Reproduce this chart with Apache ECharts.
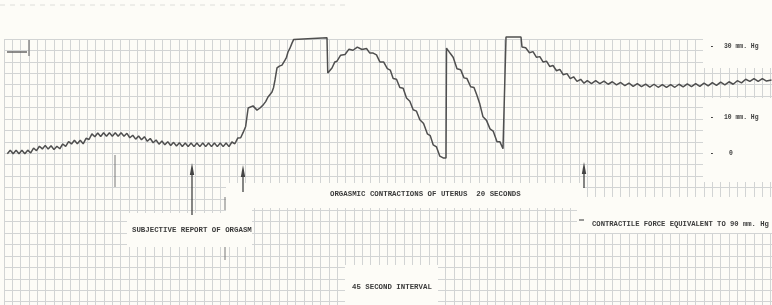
<!DOCTYPE html>
<html>
<head>
<meta charset="utf-8">
<script src="https://cdn.jsdelivr.net/npm/echarts@6/dist/echarts.min.js"></script>
<style>
html,body{margin:0;padding:0;background:#fdfcf7;}
#con{width:772px;height:305px;}
</style>
</head>
<body>
<div id="con"></div>
<script>
// time in chart squares, pressure in mm Hg
var restTrace = [[0.4,-0.2],[0.75,0.8],[1.1,-0.2],[1.45,0.8],[1.8,-0.2],[2.15,0.8],[2.5,-0.2],[2.85,0.8],[3.2,0.0],[3.55,1.4],[3.9,0.65],[4.25,1.9],[4.6,1.15],[4.95,2.15],[5.3,1.1],[5.65,2.05],[6.0,0.95],[6.35,1.9],[6.7,1.2],[7.05,2.55],[7.4,1.85],[7.75,3.2],[8.1,2.55],[8.45,3.6],[8.8,2.6],[9.15,3.6],[9.5,2.6],[9.85,4.15],[10.2,3.8],[10.55,5.4],[10.9,4.6],[11.25,5.65],[11.6,4.65],[11.95,5.7],[12.3,4.7],[12.65,5.7],[13.0,4.7],[13.35,5.7],[13.7,4.7],[14.05,5.7],[14.4,4.7],[14.75,5.55],[15.1,4.3],[15.45,5.0],[15.8,3.9],[16.15,4.8],[16.5,3.75],[16.85,4.6],[17.2,3.3],[17.55,4.1],[17.9,2.9],[18.25,3.65],[18.6,2.5],[18.95,3.4],[19.3,2.3],[19.65,3.2],[20.0,2.1],[20.35,3.0],[20.7,1.95],[21.05,2.9],[21.4,1.85],[21.75,2.8],[22.1,1.8],[22.45,2.8],[22.8,1.8],[23.15,2.8],[23.5,1.8],[23.85,2.8],[24.2,1.8],[24.55,2.8],[24.9,1.8],[25.25,2.8],[25.6,1.8],[25.95,2.8],[26.3,1.8],[26.65,2.8],[27.0,1.8],[27.35,3.1],[27.7,2.6],[28.05,4.2],[28.4,4.3],[28.7,5.8]];
var riseTrace = [[29.0,7.5],[29.2,11.0],[29.3,12.7],[29.52,13.0],[29.88,13.3],[30.36,12.1],[30.72,12.7],[31.08,13.5],[31.4,14.5],[31.68,15.8],[31.95,16.6],[32.16,17.2],[32.35,18.5],[32.52,20.6],[32.76,24.0],[33.05,24.5],[33.36,24.8],[33.72,26.2],[33.9,27.0],[34.08,28.5],[34.3,29.5],[34.56,31.0],[34.75,32.0],[34.92,32.5],[38.76,32.5]];
var contractionTrace = [[38.85,22.6],[39.36,24.0],[39.7,25.7],[39.96,25.9],[40.4,27.6],[40.92,27.8],[41.4,29.3],[41.88,29.0],[42.4,29.9],[42.96,29.2],[43.5,29.5],[43.9,28.2],[44.3,28.2],[44.7,27.7],[45.1,25.7],[45.55,25.7],[46.0,23.8],[46.35,23.4],[46.7,21.0],[47.1,20.8],[47.5,18.5],[47.9,18.3],[48.3,15.5],[48.7,14.6],[49.1,12.2],[49.5,11.8],[49.9,9.4],[50.35,8.3],[50.8,5.4],[51.15,4.9],[51.5,2.3],[51.9,1.7],[52.3,-0.9],[52.7,-1.4],[53.04,-1.4],[53.1,29.6],[53.52,28.2],[53.9,27.0],[54.36,23.8],[54.8,23.5],[55.2,21.2],[55.56,21.0],[56.0,18.7],[56.4,18.5],[56.76,16.2],[57.1,13.8],[57.48,10.2],[57.9,9.2],[58.32,6.8],[58.7,6.2],[59.16,3.2],[59.5,3.2],[59.88,1.2],[60.12,1.4],[60.24,32.7],[62.04,32.7]];
var recoveryTrace = [[62.16,29.9],[62.6,29.7],[63.05,28.3],[63.48,28.6],[63.9,27.0],[64.3,27.2],[64.68,25.7],[65.1,25.9],[65.5,24.4],[65.88,24.7],[66.3,23.2],[66.7,23.6],[67.1,22.1],[67.56,22.4],[67.95,21.0],[68.35,21.5],[68.76,20.2],[69.2,20.8],[69.6,19.7],[70.0,20.4],[70.5,19.6],[71.0,20.4],[71.5,19.6],[72.0,20.3],[72.5,19.4],[73.0,20.1],[73.5,19.2],[74.0,19.9],[74.5,19.0],[75.0,19.7],[75.5,18.8],[76.0,19.55],[76.5,18.7],[77.0,19.45],[77.5,18.6],[78.0,19.4],[78.5,18.55],[79.0,19.3],[79.5,18.5],[80.0,19.3],[80.5,18.55],[81.0,19.4],[81.5,18.65],[82.0,19.5],[82.5,18.75],[83.0,19.6],[83.5,18.8],[84.0,19.7],[84.5,18.95],[85.0,19.85],[85.5,19.1],[86.0,20.0],[86.5,19.25],[87.0,20.1],[87.5,19.4],[88.0,20.4],[88.5,19.8],[89.0,20.8],[89.5,20.2],[90.0,21.0],[90.5,20.2],[91.0,21.0],[91.5,20.3],[92.1,20.6]];

var scaleValues = [30, 10, 0];
var scaleNames = ['30 mm. Hg', '10 mm. Hg', '0'];
var notes = ['SUBJECTIVE REPORT OF ORGASM', 'ORGASMIC CONTRACTIONS OF UTERUS  20 SECONDS',
             'CONTRACTILE FORCE EQUIVALENT TO 90 mm. Hg', '45 SECOND INTERVAL'];

var paper = '#fdfcf7';
var ink = '#3c3c3c';
var gridColor = '#d2d4d4';
var mono = '"Liberation Mono", "DejaVu Sans Mono", monospace';

var myChart = echarts.init(document.getElementById('con'));
var trace = restTrace.concat(riseTrace, contractionTrace, recoveryTrace);

var option = {
    backgroundColor: paper,
    animation: false,
    grid: {left: 4, right: 0, top: 39, bottom: 0},
    xAxis: {
        type: 'value', min: 0, max: 92.16, interval: 1,
        axisLine: {show: false}, axisTick: {show: false}, axisLabel: {show: false},
        splitLine: {show: true, lineStyle: {color: gridColor, width: 1}}
    },
    yAxis: [{
        // chart paper rows
        type: 'value', inverse: true, min: 0, max: 23.29, interval: 1,
        axisLine: {show: false}, axisTick: {show: false}, axisLabel: {show: false},
        splitLine: {show: true, lineStyle: {color: gridColor, width: 1}}
    }, {
        // pressure scale
        type: 'value', min: -42.9, max: 32.17, show: false,
        splitLine: {show: false}
    }],
    series: [{
        type: 'line',
        yAxisIndex: 1,
        data: trace,
        showSymbol: false,
        clip: false,
        z: 10,
        lineStyle: {color: '#4f4f4f', width: 1.5}
    }]
};
myChart.setOption(option);

// paper patches where the labels are pasted over the grid
var patches = [
    [703, 39, 69, 29], [703, 98, 69, 84], [226, 183, 357, 25], [226, 183, 26, 64],
    [127, 213, 125, 34], [577, 197, 195, 36], [345, 265, 93, 40]
];
var els = [];
patches.forEach(function(p){
    els.push({type: 'rect', z: 1, shape: {x: p[0], y: p[1], width: p[2], height: p[3]},
              style: {fill: paper}});
});

function seg(x1, y1, x2, y2, w, c, dash){
    els.push({type: 'line', z: 11, shape: {x1: x1, y1: y1, x2: x2, y2: y2},
              style: {stroke: c || ink, lineWidth: w || 1, lineDash: dash || null}});
}
function arrow(x, top, bottom){
    seg(x, top + 6, x, bottom, 1.3, '#444');
    els.push({type: 'polygon', z: 11,
              shape: {points: [[x - 2.2, top + 12], [x, top], [x + 2.2, top + 12]]},
              style: {fill: '#444'}});
}
function note(t, x, y, size){
    els.push({type: 'text', z: 12, x: x, y: y,
              style: {text: t, fill: ink, fontSize: size || 7.4, fontWeight: 'bold',
                      fontFamily: mono, verticalAlign: 'middle'}});
}

seg(0, 5, 350, 5, 1, '#dededa', [5, 5]);
seg(7, 52, 27, 52, 1.5, '#666');
seg(29, 40, 29, 56, 1.5, '#888');
seg(115, 155, 115, 187, 1, '#777');
seg(225, 197, 225, 210, 1, '#777');
seg(225, 247, 225, 260, 1, '#777');
seg(579, 220, 584, 220, 1.2, '#555');

arrow(192, 163, 215);
arrow(243, 165, 192);
arrow(584, 162, 188);

note(notes[0], 132, 230);
note(notes[1], 330, 194);
note(notes[2], 592, 224, 7.2);
note(notes[3], 352, 287);

scaleValues.forEach(function(v, i){
    var y = myChart.convertToPixel({yAxisIndex: 1}, v);
    note('-', 710, y, 6.5);
    note(scaleNames[i], v === 0 ? 729 : 724, y, 6.4);
});

myChart.setOption({graphic: {elements: els}});
window.onresize = myChart.resize;
</script>
</body>
</html>
